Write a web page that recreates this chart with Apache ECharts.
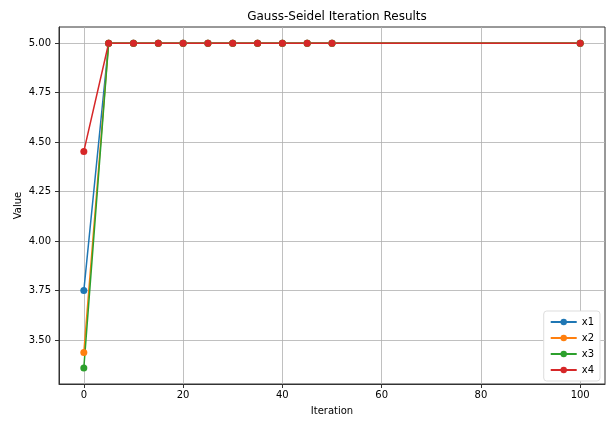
<!DOCTYPE html>
<html><head><meta charset="utf-8">
<script src="https://cdn.jsdelivr.net/npm/echarts@6/dist/echarts.min.js"></script>
<style>html,body{margin:0;padding:0;background:#fff}#c{width:608px;height:421px}</style>
</head><body><div id="c"></div>
<script>
const iterations = [0, 5, 10, 15, 20, 25, 30, 35, 40, 45, 50, 100];
const x1 = [3.75, 5, 5, 5, 5, 5, 5, 5, 5, 5, 5, 5];
const x2 = [3.4375, 5, 5, 5, 5, 5, 5, 5, 5, 5, 5, 5];
const x3 = [3.359375, 5, 5, 5, 5, 5, 5, 5, 5, 5, 5, 5];
const x4 = [4.453125, 5, 5, 5, 5, 5, 5, 5, 5, 5, 5, 5];
const seriesNames = ['x1', 'x2', 'x3', 'x4'];
const yTicks = [3.5, 3.75, 4.0, 4.25, 4.5, 4.75, 5.0];
const xTicks = [0, 20, 40, 60, 80, 100];
const colors = ['#1f77b4', '#ff7f0e', '#2ca02c', '#d62728'];
const values = [x1, x2, x3, x4];

const font = 'DejaVu Sans';
const chart = echarts.init(document.getElementById('c'), null, {renderer: 'canvas'});
chart.setOption({
  animation: false,
  color: colors,
  title: {text: 'Gauss-Seidel Iteration Results', left: 332, top: 6, textAlign: 'center',
    textStyle: {fontFamily: font, fontSize: 12, fontWeight: 'normal', color: '#000'}},
  grid: {left: 59, right: 3, top: 27, bottom: 33, show: true, borderColor: '#333', borderWidth: 1},
  legend: {orient: 'vertical', right: 8, bottom: 40, itemWidth: 26, itemHeight: 8, itemGap: 6,
    padding: [6, 6, 6, 6], borderColor: '#ddd', borderWidth: 1, borderRadius: 3, backgroundColor: '#fff',
    textStyle: {fontFamily: font, fontSize: 10, color: '#000'}, data: seriesNames},
  xAxis: {type: 'value', min: -5, max: 105,
    name: 'Iteration', nameLocation: 'middle', nameGap: 22, nameMoveOverlap: false,
    nameTextStyle: {fontFamily: font, fontSize: 10, color: '#000'},
    axisLine: {show: true, onZero: false, lineStyle: {color: '#333'}},
    axisTick: {show: true, customValues: xTicks, length: 4, lineStyle: {color: '#333'}},
    axisLabel: {customValues: xTicks, fontFamily: font, fontSize: 10, color: '#000', margin: 6},
    splitLine: {show: true, lineStyle: {color: '#b0b0b0', width: 0.8}}},
  yAxis: {type: 'value', min: 3.278, max: 5.082,
    name: 'Value', nameLocation: 'middle', nameGap: 36, nameRotate: 90, nameMoveOverlap: false,
    nameTextStyle: {fontFamily: font, fontSize: 10, color: '#000'},
    axisLine: {show: true, onZero: false, lineStyle: {color: '#333'}},
    axisTick: {show: true, customValues: yTicks, length: 4, lineStyle: {color: '#333'}},
    axisLabel: {customValues: yTicks, fontFamily: font, fontSize: 10, color: '#000', margin: 8,
      formatter: v => v.toFixed(2)},
    splitLine: {show: true, lineStyle: {color: '#b0b0b0', width: 0.8}}},
  series: seriesNames.map((n, i) => ({
    name: n, type: 'line', symbol: 'circle', symbolSize: 7,
    lineStyle: {width: 1.5, color: colors[i]}, itemStyle: {color: colors[i]},
    data: iterations.map((x, j) => [x, values[i][j]])
  }))
});
</script></body></html>
